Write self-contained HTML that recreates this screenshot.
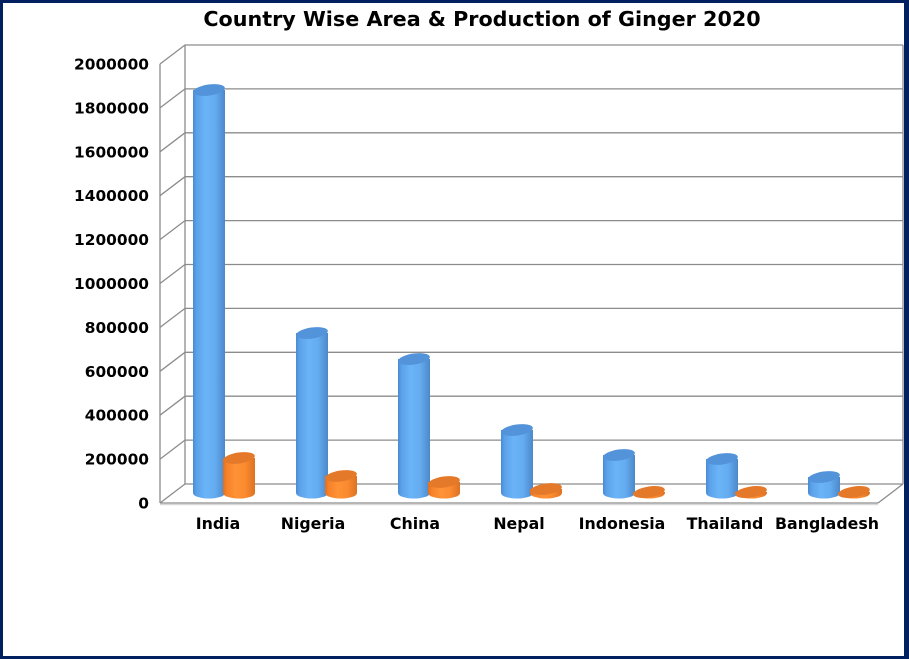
<!DOCTYPE html>
<html>
<head>
<meta charset="utf-8">
<style>
html,body{margin:0;padding:0;background:#fff;}
body{width:909px;height:659px;overflow:hidden;}
svg{display:block;}
text{font-family:"DejaVu Sans","Liberation Sans",sans-serif;font-weight:bold;fill:#000;}
</style>
</head>
<body>
<svg width="909" height="659" viewBox="0 0 909 659" xmlns="http://www.w3.org/2000/svg">
<defs>
<linearGradient id="gb" x1="0" y1="0" x2="1" y2="0">
<stop offset="0" stop-color="#4a8bd3"/>
<stop offset="0.12" stop-color="#5ba2ea"/>
<stop offset="0.4" stop-color="#6bb4f7"/>
<stop offset="0.7" stop-color="#64abf0"/>
<stop offset="1" stop-color="#4b88c9"/>
</linearGradient>
<linearGradient id="go" x1="0" y1="0" x2="1" y2="0">
<stop offset="0" stop-color="#e06e1a"/>
<stop offset="0.12" stop-color="#f7822a"/>
<stop offset="0.4" stop-color="#ff9236"/>
<stop offset="0.7" stop-color="#fb8a2f"/>
<stop offset="1" stop-color="#dc7222"/>
</linearGradient>
</defs>
<rect x="0" y="0" width="909" height="659" fill="#002060"/>
<rect x="3" y="3" width="901" height="653" fill="#ffffff"/>

<text x="482" y="26" font-size="20.7" text-anchor="middle">Country Wise Area &amp; Production of Ginger 2020</text>

<g stroke="#8c8c8c" stroke-width="1.3" fill="none">
<line x1="185" y1="45" x2="185" y2="484"/>
<line x1="903" y1="45" x2="903" y2="484"/>
<line x1="160" y1="64" x2="160" y2="503"/>
<line x1="160" y1="503" x2="878" y2="503"/>
<line x1="878" y1="503" x2="903" y2="484"/>
</g>
<g stroke="#8c8c8c" stroke-width="1.3" fill="none">
<path d="M160 64 L185 45 L903 45"/>
<path d="M160 107.9 L185 88.9 L903 88.9"/>
<path d="M160 151.8 L185 132.8 L903 132.8"/>
<path d="M160 195.7 L185 176.7 L903 176.7"/>
<path d="M160 239.6 L185 220.6 L903 220.6"/>
<path d="M160 283.5 L185 264.5 L903 264.5"/>
<path d="M160 327.4 L185 308.4 L903 308.4"/>
<path d="M160 371.3 L185 352.3 L903 352.3"/>
<path d="M160 415.2 L185 396.2 L903 396.2"/>
<path d="M160 459.1 L185 440.1 L903 440.1"/>
<path d="M160 503 L185 484 L903 484"/>
</g>
<line x1="160" y1="504.5" x2="878" y2="504.5" stroke="#d9d9d9" stroke-width="1.5"/>

<g font-size="15.4" text-anchor="end">
<text x="149" y="69.5">2000000</text>
<text x="149" y="113.4">1800000</text>
<text x="149" y="157.3">1600000</text>
<text x="149" y="201.2">1400000</text>
<text x="149" y="245.1">1200000</text>
<text x="149" y="289">1000000</text>
<text x="149" y="332.9">800000</text>
<text x="149" y="376.8">600000</text>
<text x="149" y="420.7">400000</text>
<text x="149" y="464.6">200000</text>
<text x="149" y="508.5">0</text>
</g>

<g font-size="15.8" text-anchor="middle">
<text x="218" y="529">India</text>
<text x="313" y="529">Nigeria</text>
<text x="415" y="529">China</text>
<text x="519" y="529">Nepal</text>
<text x="622" y="529">Indonesia</text>
<text x="725" y="529">Thailand</text>
<text x="827" y="529">Bangladesh</text>
</g>

<g>
<path d="M193 90 L193 493 A16 5.5 0 0 0 225 493 L225 90 Z" fill="url(#gb)"/>
<ellipse cx="209" cy="90" rx="16" ry="5.5" fill="#5393da" transform="rotate(-8 209 90)"/>
<path d="M296 333 L296 493 A16 5.5 0 0 0 328 493 L328 333 Z" fill="url(#gb)"/>
<ellipse cx="312" cy="333" rx="16" ry="5.5" fill="#5393da" transform="rotate(-8 312 333)"/>
<path d="M398 359 L398 493 A16 5.5 0 0 0 430 493 L430 359 Z" fill="url(#gb)"/>
<ellipse cx="414" cy="359" rx="16" ry="5.5" fill="#5393da" transform="rotate(-8 414 359)"/>
<path d="M501 430 L501 493 A16 5.5 0 0 0 533 493 L533 430 Z" fill="url(#gb)"/>
<ellipse cx="517" cy="430" rx="16" ry="5.5" fill="#5393da" transform="rotate(-8 517 430)"/>
<path d="M603 455 L603 493 A16 5.5 0 0 0 635 493 L635 455 Z" fill="url(#gb)"/>
<ellipse cx="619" cy="455" rx="16" ry="5.5" fill="#5393da" transform="rotate(-8 619 455)"/>
<path d="M706 459 L706 493 A16 5.5 0 0 0 738 493 L738 459 Z" fill="url(#gb)"/>
<ellipse cx="722" cy="459" rx="16" ry="5.5" fill="#5393da" transform="rotate(-8 722 459)"/>
<path d="M808 477 L808 493 A16 5.5 0 0 0 840 493 L840 477 Z" fill="url(#gb)"/>
<ellipse cx="824" cy="477" rx="16" ry="5.5" fill="#5393da" transform="rotate(-8 824 477)"/>
</g>

<g>
<path d="M223 458 L223 493 A16 5.5 0 0 0 255 493 L255 458 Z" fill="url(#go)"/>
<ellipse cx="239" cy="458" rx="16" ry="5.5" fill="#e5792a" transform="rotate(-8 239 458)"/>
<path d="M325 476 L325 493 A16 5.5 0 0 0 357 493 L357 476 Z" fill="url(#go)"/>
<ellipse cx="341" cy="476" rx="16" ry="5.5" fill="#e5792a" transform="rotate(-8 341 476)"/>
<path d="M428 482 L428 493 A16 5.5 0 0 0 460 493 L460 482 Z" fill="url(#go)"/>
<ellipse cx="444" cy="482" rx="16" ry="5.5" fill="#e5792a" transform="rotate(-8 444 482)"/>
<path d="M530 489 L530 493 A16 5.5 0 0 0 562 493 L562 489 Z" fill="url(#go)"/>
<ellipse cx="546" cy="489" rx="16" ry="5.5" fill="#e5792a" transform="rotate(-8 546 489)"/>
<path d="M633 492 L633 493 A16 5.5 0 0 0 665 493 L665 492 Z" fill="url(#go)"/>
<ellipse cx="649" cy="492" rx="16" ry="5.5" fill="#e5792a" transform="rotate(-9 649 492)"/>
<path d="M735 492 L735 493 A16 5.5 0 0 0 767 493 L767 492 Z" fill="url(#go)"/>
<ellipse cx="751" cy="492" rx="16" ry="5.5" fill="#e5792a" transform="rotate(-9 751 492)"/>
<path d="M838 492 L838 493 A16 5.5 0 0 0 870 493 L870 492 Z" fill="url(#go)"/>
<ellipse cx="854" cy="492" rx="16" ry="5.5" fill="#e5792a" transform="rotate(-9 854 492)"/>
</g>
</svg>
</body>
</html>
